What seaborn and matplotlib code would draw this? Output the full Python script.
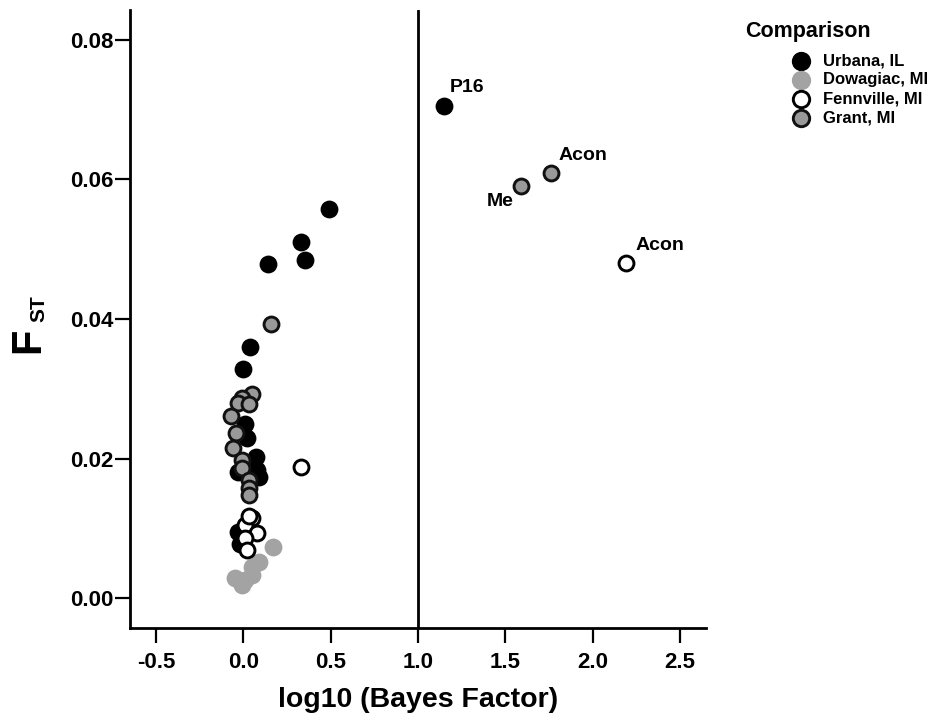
import matplotlib
matplotlib.use("Agg")
import matplotlib.pyplot as plt
import seaborn as sns
import pandas as pd

# ---- data ----
urbana_x = [1.15, 0.49, 0.33, 0.35, 0.14, 0.04, 0.00, 0.01, 0.02, 0.07, 0.08, 0.09, -0.03, 0.05, -0.03, -0.02]
urbana_y = [0.0705, 0.0558, 0.0510, 0.0485, 0.0479, 0.0360, 0.0328, 0.0250, 0.0230, 0.0202, 0.0184, 0.0174, 0.0180, 0.0192, 0.0095, 0.0078]

dowagiac_x = [0.17, 0.09, 0.05, -0.05, 0.01, 0.05, -0.01]
dowagiac_y = [0.0073, 0.0052, 0.0045, 0.0029, 0.0026, 0.0033, 0.0019]

fennville_x = [2.19, 0.33, 0.05, 0.01, 0.08, 0.01, 0.02, 0.03]
fennville_y = [0.0481, 0.0188, 0.0115, 0.0105, 0.0093, 0.0086, 0.0069, 0.0118]

grant_x = [1.76, 1.59, 0.16, 0.05, -0.01, -0.03, 0.03, -0.07, -0.04, -0.06, -0.01, -0.01, 0.03, 0.03, 0.03]
grant_y = [0.0609, 0.0591, 0.0393, 0.0292, 0.0287, 0.0280, 0.0278, 0.0261, 0.0237, 0.0215, 0.0198, 0.0186, 0.0169, 0.0158, 0.0148]

groups = ["Urbana, IL", "Dowagiac, MI", "Fennville, MI", "Grant, MI"]

label_texts = ["P16", "Acon", "Me", "Acon"]
label_x = [1.15, 1.76, 1.59, 2.19]
label_y = [0.0705, 0.0609, 0.0591, 0.0481]

x_ticks = [-0.5, 0.0, 0.5, 1.0, 1.5, 2.0, 2.5]
y_ticks = [0.00, 0.02, 0.04, 0.06, 0.08]

# ---- styling ----
sns.set_style("white")
plt.rcParams["font.family"] = ["Liberation Sans", "DejaVu Sans"]
plt.rcParams["font.weight"] = "bold"
plt.rcParams["text.color"] = "black"
plt.rcParams["axes.labelcolor"] = "black"
plt.rcParams["xtick.color"] = "black"
plt.rcParams["ytick.color"] = "black"

fig = plt.figure(figsize=(9.37, 7.21), dpi=100)
ax = fig.add_axes([130 / 937, 1 - 628 / 721, (706 - 130) / 937, (628 - 10) / 721])

frames = {
    "Urbana, IL": pd.DataFrame({"x": urbana_x, "y": urbana_y}),
    "Dowagiac, MI": pd.DataFrame({"x": dowagiac_x, "y": dowagiac_y}),
    "Fennville, MI": pd.DataFrame({"x": fennville_x, "y": fennville_y}),
    "Grant, MI": pd.DataFrame({"x": grant_x, "y": grant_y}),
}
face = {"Urbana, IL": "#000000", "Dowagiac, MI": "#a3a3a3",
        "Fennville, MI": "#ffffff", "Grant, MI": "#999999"}
edge = {"Urbana, IL": "#000000", "Dowagiac, MI": "#a3a3a3",
        "Fennville, MI": "#000000", "Grant, MI": "#111111"}

for g in groups:
    sns.scatterplot(data=frames[g], x="x", y="y", ax=ax, s=115,
                    color=face[g], edgecolor=edge[g], linewidth=2.1,
                    label=g, zorder=3, legend=False)

ax.axvline(1.0, color="black", lw=2.0, zorder=2)

ax.set_xlim(-0.65, 2.65)
ax.set_ylim(-0.0043, 0.0843)
ax.set_xticks(x_ticks)
ax.set_xticklabels([f"{t:.1f}" for t in x_ticks])
ax.set_yticks(y_ticks)
ax.set_yticklabels([f"{t:.2f}" for t in y_ticks])

for s in ["top", "right"]:
    ax.spines[s].set_visible(False)
for s in ["left", "bottom"]:
    ax.spines[s].set_linewidth(2.0)
    ax.spines[s].set_color("black")

ax.tick_params(axis="both", direction="out", length=10.5, width=1.6,
               color="black", labelsize=16, bottom=True, left=True)
ax.tick_params(axis="y", pad=1.5)
ax.tick_params(axis="x", pad=7)
for lab in ax.get_xticklabels() + ax.get_yticklabels():
    lab.set_fontweight("bold")

ax.set_xlabel("log10 (Bayes Factor)", fontsize=20.5, fontweight="bold", labelpad=10)
ax.set_ylabel("")
fig.text(28 / 937, 1 - 340 / 721, "F", rotation=90, fontsize=30,
         fontweight="bold", ha="center", va="center")
fig.text(39 / 937, 1 - 309 / 721, "ST", rotation=90, fontsize=15,
         fontweight="bold", ha="center", va="center")

offsets = [(6, 19, "left"), (8, 18, "left"), (-7, -16, "right"), (10, 17, "left")]
for t, x, y, (dx, dy, ha) in zip(label_texts, label_x, label_y, offsets):
    ax.annotate(t, (x, y), xytext=(dx, dy), textcoords="offset pixels",
                ha=ha, va="center", fontsize=14, fontweight="bold")

# legend
fig.text(745 / 937, 1 - 32 / 721, "Comparison", fontsize=15.5,
         fontweight="bold", ha="left", va="center")
handles, labels = ax.get_legend_handles_labels()
leg = fig.legend(handles, labels, loc="upper left",
                 bbox_to_anchor=(791 / 937, 1 - 53 / 721), frameon=False,
                 fontsize=12, handletextpad=0.7, labelspacing=0.25,
                 borderpad=0, borderaxespad=0, handlelength=1.2,
                 markerscale=1.1)
for txt in leg.get_texts():
    txt.set_fontweight("bold")

fig.savefig("out.png", dpi=100, facecolor="white")
